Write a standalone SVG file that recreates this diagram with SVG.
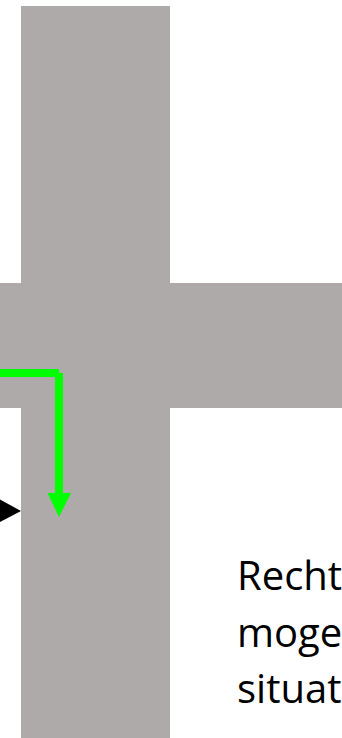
<svg xmlns="http://www.w3.org/2000/svg" width="342" height="738" viewBox="0 0 342 738">
<style>
.road{fill:#AEAAAA}
.green{stroke:#00FF00;stroke-width:8;fill:none}
.label{font-family:"Open Sans","Noto Sans",sans-serif;font-size:40px;fill:#000}
</style>
<rect width="342" height="738" fill="#fff"/>
<g id="road">
<rect class="road" x="21" y="6" width="149" height="732"/>
<rect class="road" x="0" y="283" width="342" height="125"/>
</g>
<g id="connectors">
<line class="green" x1="0" y1="373" x2="59" y2="373"/>
<line class="green" x1="59" y1="373" x2="59" y2="496"/>
<polygon points="47.5,493 71,493 59,517" fill="#00FF00"/>
<polygon points="0,499.5 21,511 0,522" fill="#000"/>
</g>
<g id="label">
<text class="label" x="237" y="590">Recht</text>
<text class="label" x="237" y="647">moge</text>
<text class="label" x="237" y="703">situat</text>
</g>
</svg>
